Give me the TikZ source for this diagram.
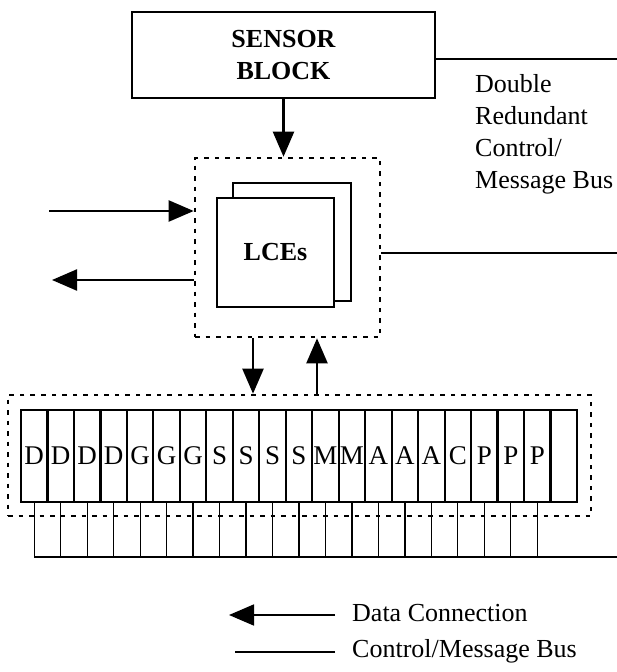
\documentclass[tikz,border=0pt]{standalone}
\usepackage{fontspec}
\setmainfont{Liberation Serif}
\usetikzlibrary{arrows.meta}
\begin{document}
\begin{tikzpicture}[x=1pt,y=-1pt,
  lbl/.style={font=\fontsize{26}{32}\selectfont},
  boldlbl/.style={font=\fontsize{26}{32}\selectfont\bfseries},
  box/.style={draw,line width=2.6pt,inner sep=0pt},
  dotbox/.style={draw,line width=2.6pt,dash pattern=on 4.5pt off 6pt,inner sep=0pt},
  data/.style={line width=2.2pt,-{Triangle[length=25pt,width=21pt]}},
  bus/.style={line width=1.2pt},
  cell/.style={draw,line width=2.2pt,minimum width=26.48pt,minimum height=92pt,
    inner sep=0pt,font=\fontsize{27}{32}\selectfont},
]
% page
\fill[white] (0,0) rectangle (617,672);
\useasboundingbox (0,0) rectangle (617,672);

% sensor block
\node[box,boldlbl,align=center,minimum width=303pt,minimum height=86pt]
  (sensor) at (283.5,55) {SENSOR\\BLOCK};

% LCE group
\node[dotbox,minimum width=185pt,minimum height=179pt] (lcebox) at (287.5,247.5) {};
\node[box,fill=white,minimum width=118pt,minimum height=118pt] (lceb) at (292,242) {};
\node[box,fill=white,boldlbl,minimum width=117pt,minimum height=109pt] (lcef) at (275.5,252.5) {LCEs};

% bus label
\node[lbl,anchor=north west,inner sep=0pt,align=left] (dbl) at (475,74)
  {Double\\Redundant\\Control/\\Message Bus};

% bus lines on the right
\coordinate (busA) at (617,59);
\coordinate (busB) at (617,253);
\draw[bus] (sensor.east |- busA) -- (busA);
\draw[bus] (lcebox.east |- busB) -- (busB);

% data connections of the LCE group
\draw[data] (sensor.south) -- (sensor.south |- lcebox.north);
\coordinate (inA) at (49,211);
\coordinate (outA) at (52,280);
\draw[data] (inA) -- (inA -| lcebox.west);
\draw[data] (outA -| lcebox.west) -- (outA);

% module rack
\node[dotbox,minimum width=583pt,minimum height=121pt] (mods) at (299.5,455.5) {};
\foreach \l [count=\i] in {D,D,D,D,G,G,G,S,S,S,S,M,M,A,A,A,C,P,P,P,{}}
  \node[cell] (c\i) at ({21+26.476*(\i-0.5)},456) {\l};

\draw[data] ([xshift=-34.5pt]lcebox.south) -- ([xshift=-34.5pt]lcebox.south |- mods.north);
\draw[data] ([xshift=29.5pt]lcebox.south |- mods.north) -- ([xshift=29.5pt]lcebox.south);

% module taps onto the control/message bus
\coordinate (busC) at (617,557);
\foreach \i in {1,...,20}
  \draw[bus] (c\i.south) -- (c\i.south |- busC);
\draw[bus] (c1.south |- busC) -- (busC);

% legend
\coordinate (legAs) at (335,615);
\coordinate (legAe) at (229,615);
\coordinate (legBs) at (335,652);
\coordinate (legBe) at (235,652);
\draw[data,line width=1.8pt] (legAs) -- (legAe);
\draw[bus] (legBs) -- (legBe);
\node[lbl,anchor=base west,inner sep=0pt] (legA) at (352,621) {Data Connection};
\node[lbl,anchor=base west,inner sep=0pt] (legB) at (352,657) {Control/Message Bus};
\end{tikzpicture}
\end{document}
